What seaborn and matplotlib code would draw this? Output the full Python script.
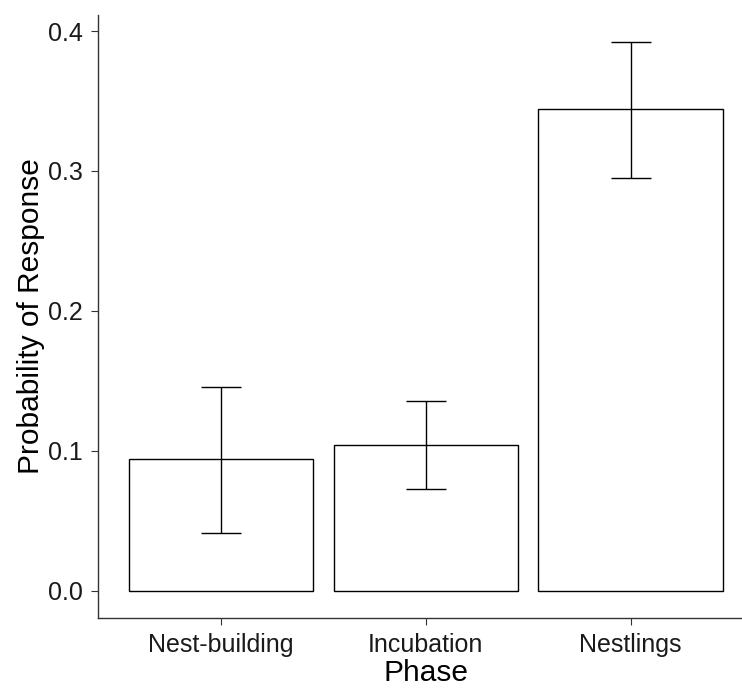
import matplotlib
matplotlib.use("Agg")
import matplotlib.pyplot as plt
import seaborn as sns
import pandas as pd
import numpy as np

# Estimated probability of response by nesting phase, with confidence limits
phases = ["Nest-building", "Incubation", "Nestlings"]
prob = [0.0939, 0.1043, 0.3441]
lower = [0.0410, 0.0727, 0.2948]
upper = [0.1458, 0.1356, 0.3922]
yticks = [0.0, 0.1, 0.2, 0.3, 0.4]

df = pd.DataFrame({"Phase": phases, "Probability": prob})

sns.set_theme(style="ticks")
plt.rcParams["font.family"] = ["Liberation Sans", "DejaVu Sans"]

fig = plt.figure(figsize=(7.42, 6.88), dpi=100)
# panel runs slightly past the right edge of the canvas
ax = fig.add_axes([98 / 742, 70 / 688, (753.5 - 98) / 742, (618 - 15) / 688])

sns.barplot(data=df, x="Phase", y="Probability", order=phases, errorbar=None,
            width=0.9, color="white", edgecolor="black", linewidth=1.0, ax=ax)

xpos = np.arange(len(phases))
yerr = np.array([np.array(prob) - np.array(lower), np.array(upper) - np.array(prob)])
ax.errorbar(xpos, prob, yerr=yerr, fmt="none", ecolor="black", elinewidth=1.0,
            capsize=14.4, capthick=1.0)

ax.set_xlim(-0.6, 2.6)
ax.set_ylim(-0.0195, 0.4115)
ax.set_yticks(yticks)
ax.set_yticklabels([f"{v:.1f}" for v in yticks])

ax.set_xlabel("Phase", fontsize=21.5, color="black", labelpad=1)
ax.set_ylabel("Probability of Response", fontsize=21.5, color="black", labelpad=2)
ax.tick_params(axis="both", labelsize=18, labelcolor="#1a1a1a", color="#333333",
               length=5, width=0.8)
ax.tick_params(axis="y", pad=6)
ax.tick_params(axis="x", pad=6)

for side in ["top", "right"]:
    ax.spines[side].set_visible(False)
for side in ["left", "bottom"]:
    ax.spines[side].set_color("#333333")
    ax.spines[side].set_linewidth(1.0)

fig.savefig("out.png", dpi=100)
